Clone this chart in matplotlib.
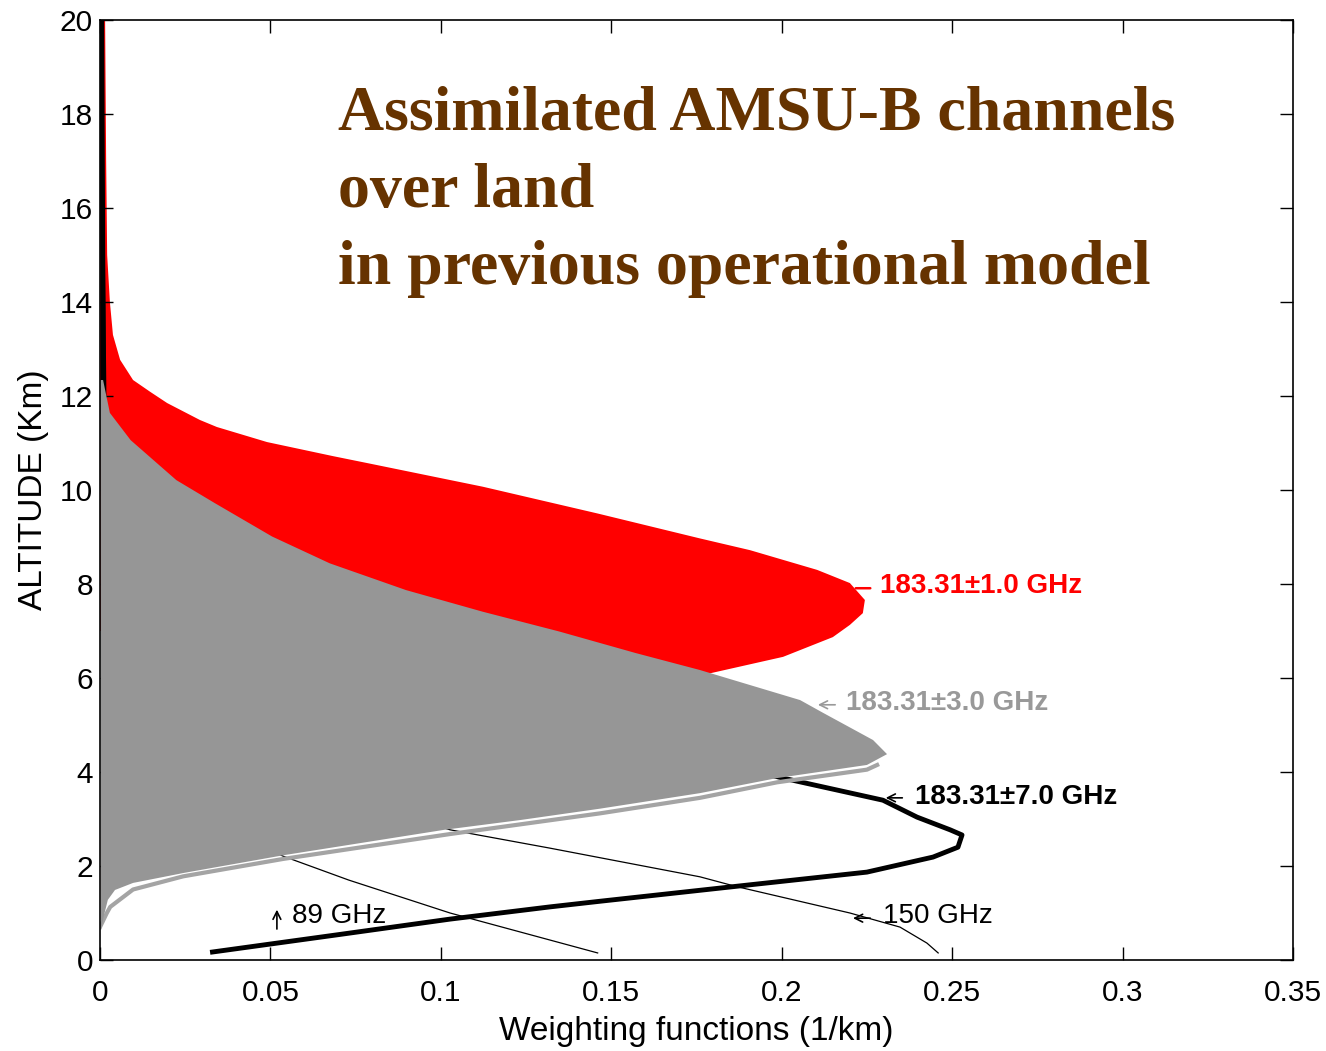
import matplotlib
matplotlib.use("Agg")
import matplotlib.pyplot as plt

# 183.31+-1.0 GHz envelope (outer edge from top to peak and back)
red_alt = [20, 17.02, 15.0, 14.0, 13.3, 12.77, 12.34, 12.09, 11.85, 11.49, 11.34, 11.02, 10.72, 10.57,
           10.07, 9.5, 8.97, 8.72, 8.30, 8.02, 7.66, 7.38, 7.13, 6.87, 6.45, 6.1, 6.5, 7.0, 7.0]
red_w = [0.0015, 0.0018, 0.0021, 0.0029, 0.0038, 0.0059, 0.0097, 0.0147, 0.0197, 0.0293, 0.0343, 0.049,
         0.0684, 0.0786, 0.1123, 0.146, 0.176, 0.1907, 0.2104, 0.22, 0.2244, 0.2238, 0.22, 0.215, 0.2004,
         0.179, 0.12, 0.05, 0.0]

# 183.31+-3.0 GHz envelope
gray_alt = [12.34, 11.64, 11.06, 10.21, 9.72, 9.01, 8.44, 7.87, 7.41, 6.99, 6.53, 6.17, 5.53, 5.26, 4.68, 4.38,
            4.15, 3.87, 3.55, 3.22, 2.98, 2.77, 2.23, 1.85, 1.64, 1.49, 1.28, 0.96, 0.64]
gray_w = [0.0009, 0.0029, 0.009, 0.0224, 0.0337, 0.0505, 0.0674, 0.0898, 0.1123, 0.1347, 0.1572, 0.176,
          0.2054, 0.2121, 0.2268, 0.2309, 0.225, 0.1986, 0.176, 0.1467, 0.1235, 0.101, 0.0539, 0.0244,
          0.0097, 0.0044, 0.0023, 0.0012, 0.0003]
gray_out_alt = [0.7, 1.0, 1.13, 1.5, 1.78, 2.15, 2.68, 3.12, 3.45, 3.78, 4.05, 4.15]
gray_out_w = [0.0, 0.002, 0.003, 0.0097, 0.0244, 0.0537, 0.1027, 0.1467, 0.176, 0.1986, 0.225, 0.228]

# 183.31+-7.0 GHz
ch7_w = [0.033, 0.07, 0.1027, 0.132, 0.1467, 0.1907, 0.225, 0.2444, 0.2517, 0.2529, 0.2494, 0.2397,
         0.2297, 0.2004, 0.17, 0.13, 0.08, 0.04, 0.015, 0.004, 0.001, 0.0005]
ch7_alt = [0.17, 0.54, 0.87, 1.13, 1.25, 1.6, 1.87, 2.19, 2.4, 2.66, 2.77, 3.04,
           3.4, 3.87, 4.4, 5.0, 6.0, 7.5, 9.0, 10.5, 12.0, 20.0]

# 89 GHz
ch89_w = [0.146, 0.1027, 0.073, 0.0537, 0.03, 0.012, 0.003, 0.0008, 0.0003]
ch89_alt = [0.15, 1.0, 1.70, 2.21, 3.0, 4.5, 7.0, 10.0, 20.0]

# 150 GHz
ch150_w = [0.2459, 0.2426, 0.2347, 0.22, 0.1863, 0.176, 0.132, 0.1027, 0.07, 0.03, 0.01, 0.002, 0.0005]
ch150_alt = [0.15, 0.36, 0.7, 1.0, 1.57, 1.77, 2.38, 2.77, 3.5, 5.0, 7.0, 10.0, 20.0]

xticks = [0, 0.05, 0.1, 0.15, 0.2, 0.25, 0.3, 0.35]
xtick_labels = ['0', '0.05', '0.1', '0.15', '0.2', '0.25', '0.3', '0.35']
yticks = [0, 2, 4, 6, 8, 10, 12, 14, 16, 18, 20]
title_lines = ['Assimilated AMSU-B channels', 'over land', 'in previous operational model']

plt.rcParams['font.family'] = ['Liberation Sans', 'DejaVu Sans']

fig = plt.figure(figsize=(13.26, 10.51), dpi=100)
ax = fig.add_axes([100/1326, 91/1051, 1193/1326, 940/1051])

# red band
ax.fill([0] + red_w, [20] + red_alt, color='#ff0000', lw=0, zorder=1)
ax.plot([0.0005, 0.0005], [0.9, 2.6], color='#ff0000', lw=1.5, zorder=1)
# lines partly hidden under the gray band
ax.plot(ch7_w, ch7_alt, color='black', lw=3.5, zorder=2, solid_joinstyle='round')
ax.plot(ch89_w, ch89_alt, color='black', lw=0.9, zorder=2)
ax.plot(ch150_w, ch150_alt, color='black', lw=0.9, zorder=2)
# gray band
ax.plot(gray_out_w, gray_out_alt, color='#a4a4a4', lw=3, zorder=3)
ax.fill([0] + gray_w, [12.34] + gray_alt, color='#969696', lw=0, zorder=4)

ax.set_xlim(0, 0.35)
ax.set_ylim(0, 20)
ax.set_xticks(xticks)
ax.set_xticklabels(xtick_labels)
ax.set_yticks(yticks)
ax.tick_params(direction='in', length=9.5, width=1, top=True, right=True, labelsize=21.5)
ax.tick_params(axis='x', pad=14)
ax.tick_params(axis='y', pad=5)
for s in ax.spines.values():
    s.set_linewidth(1.2)
    s.set_zorder(6)

ax.set_xlabel('Weighting functions (1/km)', fontsize=24, labelpad=6)
ax.set_ylabel('ALTITUDE (Km)', fontsize=24, labelpad=8)

# channel labels
arrow_kw = dict(arrowstyle='->', color='black', lw=1.2, mutation_scale=14)
ax.annotate('', xy=(0.2209, 7.91), xytext=(0.2268, 7.91),
            arrowprops=dict(arrowstyle='-', color='#ff0000', lw=1.8), zorder=7)
ax.text(0.2288, 7.96, '183.31±1.0 GHz', color='#ff0000', fontsize=20, fontweight='bold', va='center', zorder=7)

ax.annotate('', xy=(0.2098, 5.43), xytext=(0.2165, 5.43),
            arrowprops=dict(arrow_kw, color='#999999'), zorder=7)
ax.text(0.2188, 5.47, '183.31±3.0 GHz', color='#999999', fontsize=20, fontweight='bold', va='center', zorder=7)

ax.annotate('', xy=(0.2297, 3.45), xytext=(0.2362, 3.45), arrowprops=arrow_kw, zorder=7)
ax.text(0.2391, 3.47, '183.31±7.0 GHz', color='black', fontsize=20, fontweight='bold', va='center', zorder=7)

ax.annotate('', xy=(0.2201, 0.89), xytext=(0.2268, 0.89), arrowprops=arrow_kw, zorder=7)
ax.text(0.2297, 0.94, '150 GHz', color='black', fontsize=20, va='center', zorder=7)

ax.annotate('', xy=(0.0519, 1.13), xytext=(0.0519, 0.6), arrowprops=arrow_kw, zorder=7)
ax.text(0.0563, 0.94, '89 GHz', color='black', fontsize=20, va='center', zorder=7)

title_base_px = [130, 207, 284]
for line, ypx in zip(title_lines, title_base_px):
    fig.text(338/1326, 1 - ypx/1051, line, family='Liberation Serif', fontweight='bold',
             fontsize=46, color='#663300', va='baseline', ha='left')

fig.savefig('out.png', dpi=100)
